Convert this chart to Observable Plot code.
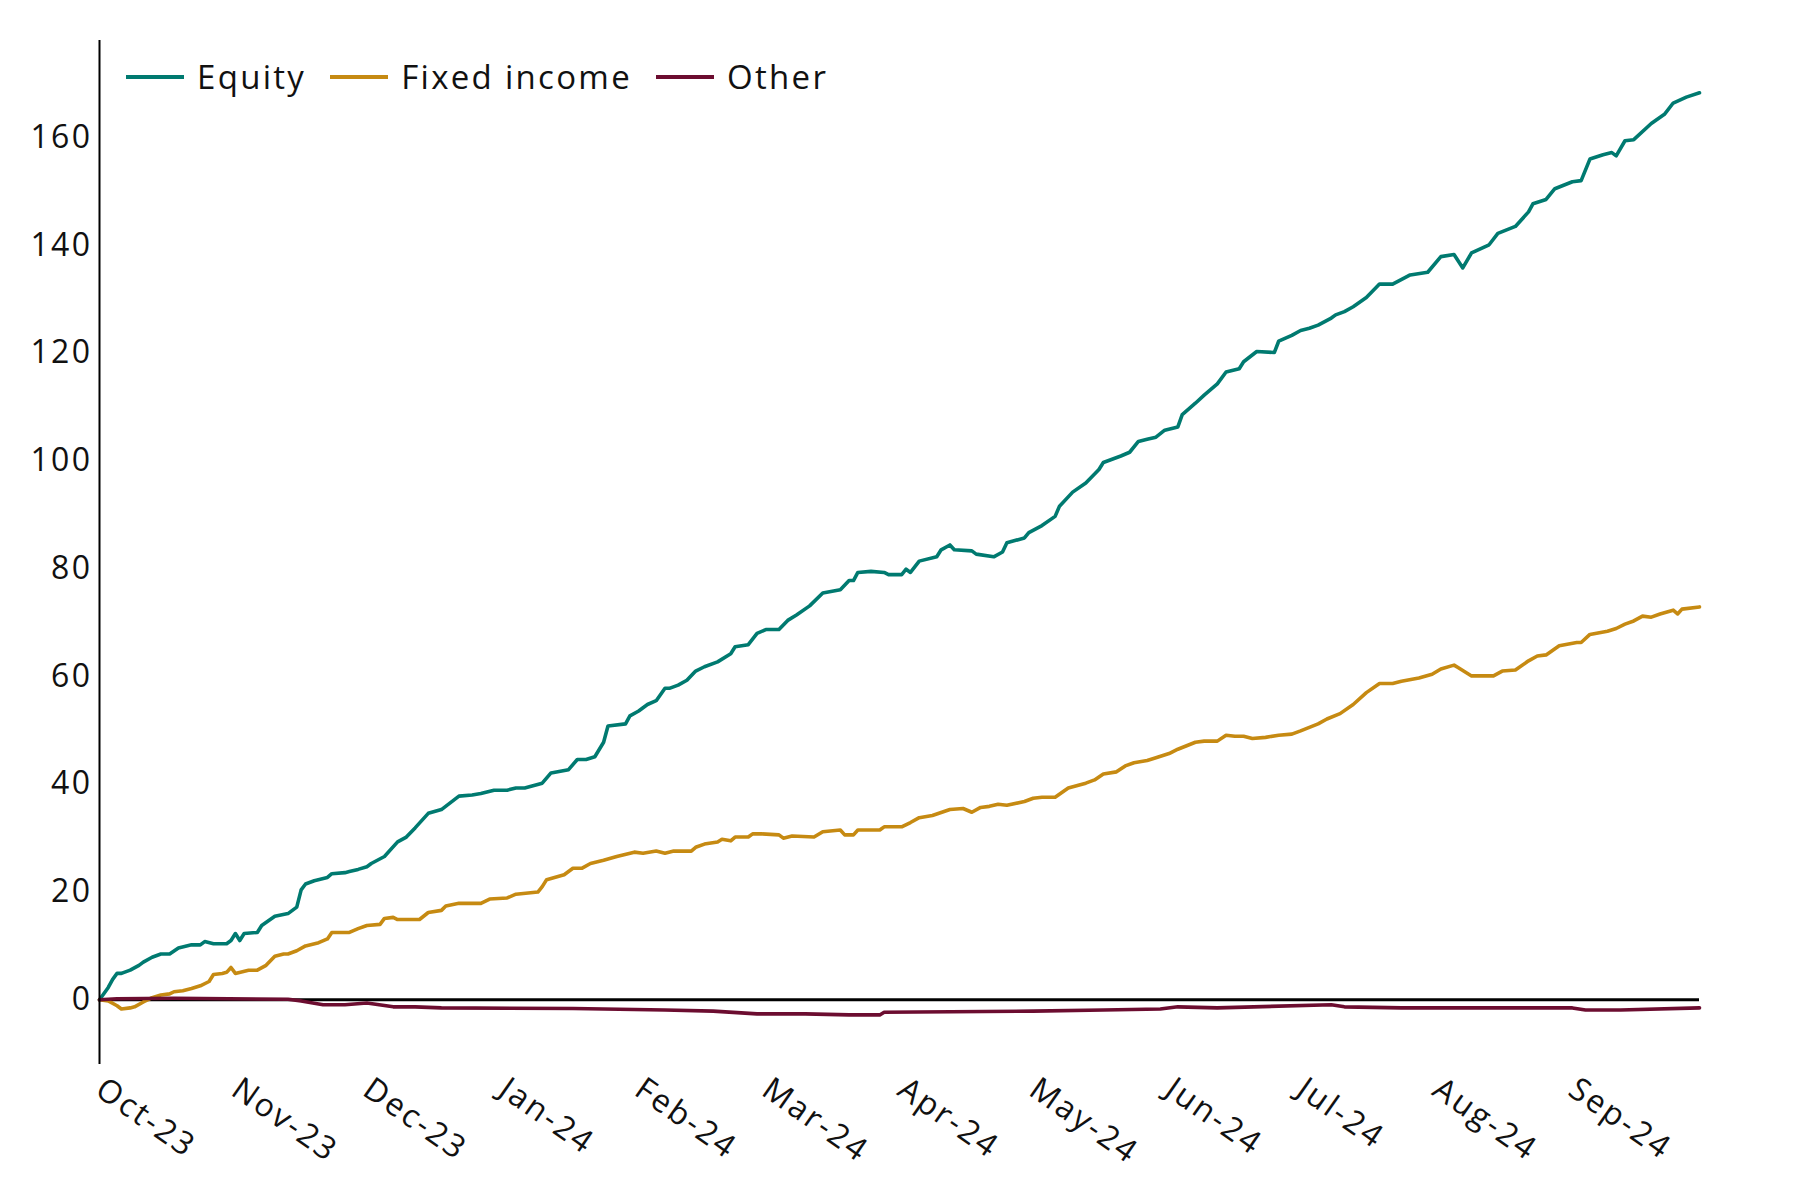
<!DOCTYPE html>
<html><head><meta charset="utf-8">
<script src="https://cdn.jsdelivr.net/npm/d3@7"></script>
<script src="https://cdn.jsdelivr.net/npm/@observablehq/plot@0.6"></script>
<style>
body{margin:0;background:#fff;font-family:"Open Sans", sans-serif;}
#wrap{position:relative;width:1800px;height:1200px;}
#legend{position:absolute;left:126px;top:56px;display:flex;align-items:center;font-size:33px;letter-spacing:2.3px;color:#111;line-height:42px;}
.item{display:flex;align-items:center;margin-right:24px}
.sw{width:58px;height:3.6px;margin-right:13px}
</style></head><body><div id="wrap"><div id="legend"></div></div>
<script>
const startDate = "2023-10-01";
const endDate = "2024-09-30";
const seriesNames = ["Equity", "Fixed income", "Other"];
const seriesColors = ["#007a70", "#c68a12", "#6c0d30"];
const yTicks = [0, 20, 40, 60, 80, 100, 120, 140, 160];

// days since 2023-10-01
const equityDays = [0,2,3,4,5,7,9,10,12,14,16,18,21,23,24,26,29,30,31,32,33,36,37,40,43,45,46,47,49,52,53,56,57,59,61,62,65,68,70,72,75,78,82,85,87,90,93,95,97,101,103,107,109,111,113,115,116,120,121,123,125,127,129,130,132,134,136,138,141,144,145,148,150,152,155,157,159,162,165,169,171,172,173,176,179,180,183,184,185,187,191,192,194,195,199,200,204,206,207,211,212,215,218,219,222,225,228,229,233,235,237,239,241,243,246,247,250,252,255,257,260,261,264,268,269,272,274,276,278,281,282,284,286,289,292,295,299,303,306,309,311,313,317,319,323,326,327,330,332,336,338,340,343,345,346,348,350,354,357,359,362,365];
const equityValues = [0,2.3,3.8,4.9,4.9,5.5,6.4,7.0,7.9,8.5,8.5,9.6,10.2,10.2,10.8,10.4,10.4,11.0,12.3,11.0,12.3,12.5,13.8,15.5,16.0,17.2,20.4,21.5,22.1,22.7,23.4,23.6,23.8,24.2,24.7,25.3,26.6,29.3,30.2,31.9,34.6,35.3,37.8,38.0,38.3,38.9,38.9,39.3,39.3,40.2,42.1,42.7,44.6,44.6,45.1,47.8,50.8,51.2,52.7,53.6,54.8,55.5,57.8,57.8,58.4,59.3,61.0,61.8,62.7,64.2,65.5,65.9,68.0,68.7,68.7,70.4,71.4,73.1,75.5,76.1,77.8,77.8,79.3,79.5,79.3,78.9,78.9,79.9,79.3,81.4,82.2,83.5,84.4,83.5,83.3,82.7,82.2,83.1,84.8,85.7,86.7,88.0,89.7,91.6,94.2,95.9,98.4,99.7,100.9,101.6,103.6,104.0,104.4,105.7,106.3,108.6,110.7,112.2,114.3,116.5,117.1,118.4,120.3,120.1,122.2,123.3,124.2,124.6,125.2,126.5,127.1,127.7,128.6,130.3,132.8,132.8,134.5,135.0,137.9,138.3,135.8,138.6,140.1,142.2,143.5,146.2,147.7,148.5,150.5,151.8,152.0,156.0,156.8,157.2,156.6,159.4,159.6,162.6,164.3,166.4,167.5,168.3];

const fixedDays = [0,2,4,5,7,8,10,12,14,16,17,19,21,23,25,26,28,29,30,31,34,36,38,40,42,43,45,47,50,52,53,57,59,61,64,65,67,68,73,75,78,79,82,87,89,93,95,100,101,102,106,108,110,112,115,118,122,124,127,129,131,135,136,138,141,142,144,145,148,149,151,155,156,158,163,165,169,170,172,173,178,179,183,185,187,190,194,197,199,201,203,205,207,211,213,215,218,221,225,227,229,232,234,236,239,241,244,246,250,252,255,257,259,261,263,266,269,272,274,278,280,283,286,289,292,295,297,301,304,306,309,310,313,316,318,320,323,326,328,330,333,337,338,340,344,346,348,350,352,354,356,359,360,361,365];
const fixedValues = [0,-0.2,-1.1,-1.7,-1.5,-1.3,-0.4,0.4,0.9,1.1,1.5,1.7,2.1,2.6,3.4,4.7,4.9,5.1,6.0,4.9,5.5,5.5,6.4,8.1,8.5,8.5,9.1,10.0,10.6,11.3,12.5,12.5,13.2,13.8,14.0,15.1,15.3,14.9,14.9,16.2,16.6,17.4,17.9,17.9,18.7,18.9,19.6,20.0,21.0,22.3,23.2,24.4,24.4,25.3,25.9,26.6,27.4,27.2,27.6,27.2,27.6,27.6,28.3,28.9,29.3,29.8,29.5,30.2,30.2,30.8,30.8,30.6,30.0,30.4,30.2,31.2,31.5,30.6,30.6,31.5,31.5,32.1,32.1,32.9,33.8,34.2,35.3,35.5,34.8,35.7,35.9,36.3,36.1,36.8,37.4,37.6,37.6,39.3,40.2,40.8,41.9,42.3,43.4,44.0,44.4,44.9,45.7,46.5,47.8,48.0,48.0,49.1,48.9,48.9,48.5,48.7,49.1,49.3,49.9,51.2,52.1,53.1,54.8,57.0,58.7,58.7,59.1,59.7,60.4,61.4,62.1,61.6,60.1,60.1,60.1,61.0,61.2,62.9,63.8,64.0,65.7,66.3,66.3,67.8,68.4,68.9,69.7,70.3,71.2,71.0,71.6,72.3,71.6,72.5,72.9];

const otherDays = [0,4,17,43,46,51,56,61,67,72,78,108,129,140,150,161,171,178,179,213,229,242,246,255,281,284,297,336,339,347,365];
const otherValues = [0,0.2,0.3,0.1,-0.2,-0.9,-0.9,-0.6,-1.3,-1.3,-1.5,-1.6,-1.9,-2.1,-2.6,-2.6,-2.8,-2.8,-2.3,-2.1,-1.9,-1.7,-1.3,-1.5,-0.9,-1.3,-1.5,-1.5,-1.9,-1.9,-1.5];

const start = new Date(startDate);
const end = new Date(endDate);
function toRows(name, days, vals) {
  return days.map((d, i) => ({series: name, date: d3.utcDay.offset(start, d), value: vals[i]}));
}
const rows = [
  ...toRows(seriesNames[0], equityDays, equityValues),
  ...toRows(seriesNames[1], fixedDays, fixedValues),
  ...toRows(seriesNames[2], otherDays, otherValues)
];
const monthTicks = d3.utcMonth.range(start, end);

const chart = Plot.plot({
  width: 1800, height: 1200,
  marginLeft: 99, marginRight: 101, marginTop: 40, marginBottom: 136,
  style: {fontFamily: "'Open Sans', sans-serif", fontSize: "32px", letterSpacing: "2.4px", color: "#111", background: "#fff"},
  x: {type: "utc", domain: [start, end]},
  y: {domain: [-12, 178]},
  color: {domain: seriesNames, range: seriesColors},
  marks: [
    Plot.axisY({ticks: yTicks, tickSize: 0, tickPadding: 7, fontSize: 32, label: null}),
    Plot.axisX({ticks: monthTicks, tickFormat: d3.utcFormat("%b-%y"), tickSize: 0, tickPadding: 21, tickRotate: 35, fontSize: 32, label: null}),
    Plot.ruleY([0], {stroke: "#000", strokeWidth: 3}),
    Plot.line(rows, {x: "date", y: "value", z: "series", stroke: "series", strokeWidth: 3.6}),
    Plot.ruleX([start], {stroke: "#000", strokeWidth: 2})
  ]
});
document.getElementById("wrap").prepend(chart);

const legend = document.getElementById("legend");
seriesNames.forEach((n, i) => {
  const it = document.createElement("div");
  it.className = "item";
  it.innerHTML = `<span class="sw" style="background:${seriesColors[i]}"></span><span>${n}</span>`;
  legend.appendChild(it);
});
</script>
</body></html>
